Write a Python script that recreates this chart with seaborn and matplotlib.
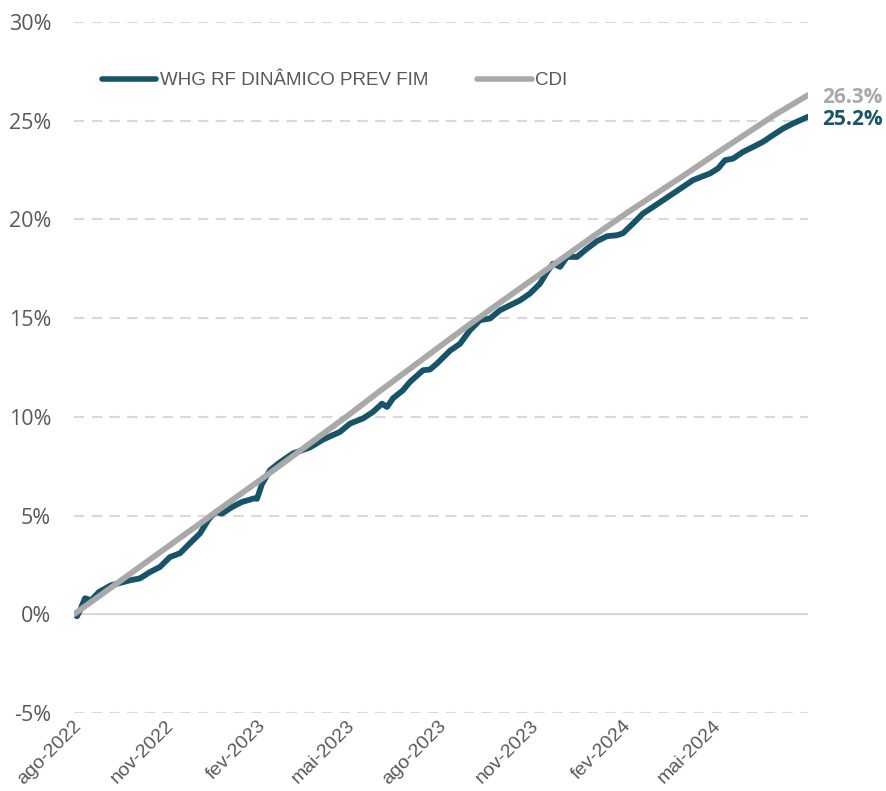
import seaborn as sns
import matplotlib.pyplot as plt
import matplotlib.transforms as mtransforms
from matplotlib.lines import Line2D
import pandas as pd

# fund cumulative return (%)
fund_dates = ['2022-07-28', '2022-07-31', '2022-08-03', '2022-08-08', '2022-08-14', '2022-08-22',
              '2022-09-03', '2022-09-22', '2022-10-02', '2022-10-12', '2022-10-22', '2022-11-01',
              '2022-11-11', '2022-11-21', '2022-12-01', '2022-12-09', '2022-12-12', '2022-12-17',
              '2022-12-23', '2023-01-02', '2023-01-12', '2023-01-24', '2023-01-27', '2023-02-01',
              '2023-02-09', '2023-02-19', '2023-03-04', '2023-03-21', '2023-04-03', '2023-04-20',
              '2023-04-30', '2023-05-13', '2023-05-23', '2023-06-01', '2023-06-06', '2023-06-12',
              '2023-06-22', '2023-06-29', '2023-07-12', '2023-07-19', '2023-07-26', '2023-08-08',
              '2023-08-18', '2023-08-28', '2023-09-07', '2023-09-17', '2023-09-27', '2023-10-07',
              '2023-10-17', '2023-10-27', '2023-11-06', '2023-11-13', '2023-11-19', '2023-11-26',
              '2023-12-03', '2023-12-13', '2023-12-23', '2024-01-02', '2024-01-12', '2024-01-22',
              '2024-01-28', '2024-02-07', '2024-02-17', '2024-02-27', '2024-03-08', '2024-03-18',
              '2024-03-28', '2024-04-07', '2024-04-17', '2024-04-24', '2024-05-02', '2024-05-09',
              '2024-05-17', '2024-05-27', '2024-06-06', '2024-06-16', '2024-06-26', '2024-07-06',
              '2024-07-16', '2024-07-31']
fund_vals = [0.0, -0.1, 0.2, 0.81, 0.71, 1.13,
             1.47, 1.72, 1.82, 2.14, 2.4, 2.9,
             3.09, 3.6, 4.1, 4.76, 4.95, 5.18,
             5.1, 5.43, 5.69, 5.87, 5.85, 6.6,
             7.3, 7.7, 8.15, 8.45, 8.85, 9.24,
             9.66, 9.92, 10.25, 10.67, 10.5, 10.94,
             11.35, 11.77, 12.36, 12.4, 12.7, 13.35,
             13.7, 14.39, 14.9, 14.98, 15.4, 15.65,
             15.9, 16.25, 16.75, 17.34, 17.76, 17.6,
             18.1, 18.1, 18.52, 18.9, 19.15, 19.2,
             19.3, 19.79, 20.3, 20.63, 20.97, 21.31,
             21.65, 21.99, 22.19, 22.33, 22.58, 23.0,
             23.08, 23.42, 23.67, 23.93, 24.27, 24.6,
             24.86, 25.2]

# CDI cumulative return (%)
cdi_dates = ['2022-07-28', '2022-08-31', '2022-09-30', '2022-10-31', '2022-11-30', '2022-12-30',
             '2023-01-31', '2023-02-28', '2023-03-31', '2023-04-28', '2023-05-31', '2023-06-30',
             '2023-07-31', '2023-08-31', '2023-09-29', '2023-10-31', '2023-11-30', '2023-12-29',
             '2024-01-31', '2024-02-29', '2024-03-28', '2024-04-30', '2024-05-31', '2024-06-28',
             '2024-07-31']
cdi_vals = [0.0, 1.24, 2.34, 3.47, 4.56, 5.67,
            6.83, 7.87, 9.03, 10.07, 11.35, 12.48,
            13.65, 14.81, 15.86, 17.01, 18.09, 19.14,
            20.3, 21.27, 22.2, 23.33, 24.37, 25.3,
            26.3]

fund_name = 'WHG RF DINÂMICO PREV FIM'
cdi_name = 'CDI'
tick_dates = ['2022-08-01', '2022-11-01', '2023-02-01', '2023-05-01', '2023-08-01',
              '2023-11-01', '2024-02-01', '2024-05-01']
tick_labels = ['ago-2022', 'nov-2022', 'fev-2023', 'mai-2023', 'ago-2023',
               'nov-2023', 'fev-2024', 'mai-2024']
y_ticks = [-5, 0, 5, 10, 15, 20, 25, 30]

teal = '#17546a'
gray = '#a9a9a9'
txt = '#595959'

df = pd.concat([
    pd.DataFrame({'data': pd.to_datetime(fund_dates), 'ret': fund_vals, 'serie': fund_name}),
    pd.DataFrame({'data': pd.to_datetime(cdi_dates), 'ret': cdi_vals, 'serie': cdi_name}),
])

sns.set_style('white')
fig = plt.figure(figsize=(8.86, 7.91), dpi=100)
ax = fig.add_axes([74/886, 78/791, 734/886, 691/791])

sns.lineplot(data=df, x='data', y='ret', hue='serie', palette={fund_name: teal, cdi_name: gray},
             estimator=None, linewidth=4.2, ax=ax, legend=False)
for l in ax.lines:
    l.set_solid_capstyle('round')
    l.set_solid_joinstyle('round')

ax.set_ylim(-5, 30)
ax.set_xlim(pd.Timestamp(fund_dates[0]), pd.Timestamp(fund_dates[-1]))
for y in y_ticks:
    if y == 0:
        ax.axhline(0, color='#d9d9d9', lw=1.5, zorder=0)
    else:
        ax.axhline(y, color='#d9d9d9', lw=1.5, ls=(0, (5, 3.5)), zorder=0)

ax.set_yticks(y_ticks)
ax.set_yticklabels([f'{y}%' for y in y_ticks], fontsize=15.5, color=txt, family='Open Sans')
ax.set_xticks(pd.to_datetime(tick_dates))
ax.set_xticklabels(tick_labels, rotation=45, ha='right', rotation_mode='anchor',
                   fontsize=14, color=txt, family='Liberation Sans')
ax.tick_params(axis='y', length=0, pad=16.5)
ax.tick_params(axis='x', length=0, pad=3)
shift = mtransforms.ScaledTranslation(-5/100, 0, fig.dpi_scale_trans)
for lab in ax.get_xticklabels():
    lab.set_transform(lab.get_transform() + shift)
ax.set_xlabel('')
ax.set_ylabel('')
sns.despine(ax=ax, left=True, bottom=True, top=True, right=True)

# legend
handles = [Line2D([], [], color=teal, lw=4, solid_capstyle='round'),
           Line2D([], [], color=gray, lw=4, solid_capstyle='round')]
leg = ax.legend(handles, [fund_name, cdi_name], ncol=2, frameon=False, loc='center left',
                bbox_to_anchor=(0.038, 0.915), borderaxespad=0, borderpad=0,
                handlelength=2.9, handletextpad=0.2, columnspacing=2.6,
                prop={'family': 'Liberation Sans', 'size': 13.5})
for t in leg.get_texts():
    t.set_color(txt)

# end labels
ax.annotate(f'{cdi_vals[-1]:.1f}%', (pd.Timestamp(cdi_dates[-1]), cdi_vals[-1]), xytext=(10.5, -1.5),
            textcoords='offset points', color=gray, fontsize=15, fontweight='bold',
            family='Open Sans', va='center', ha='left', annotation_clip=False)
ax.annotate(f'{fund_vals[-1]:.1f}%', (pd.Timestamp(fund_dates[-1]), fund_vals[-1]), xytext=(10.5, -2),
            textcoords='offset points', color=teal, fontsize=15, fontweight='bold',
            family='Open Sans', va='center', ha='left', annotation_clip=False)

fig.savefig('out.png', dpi=100)
